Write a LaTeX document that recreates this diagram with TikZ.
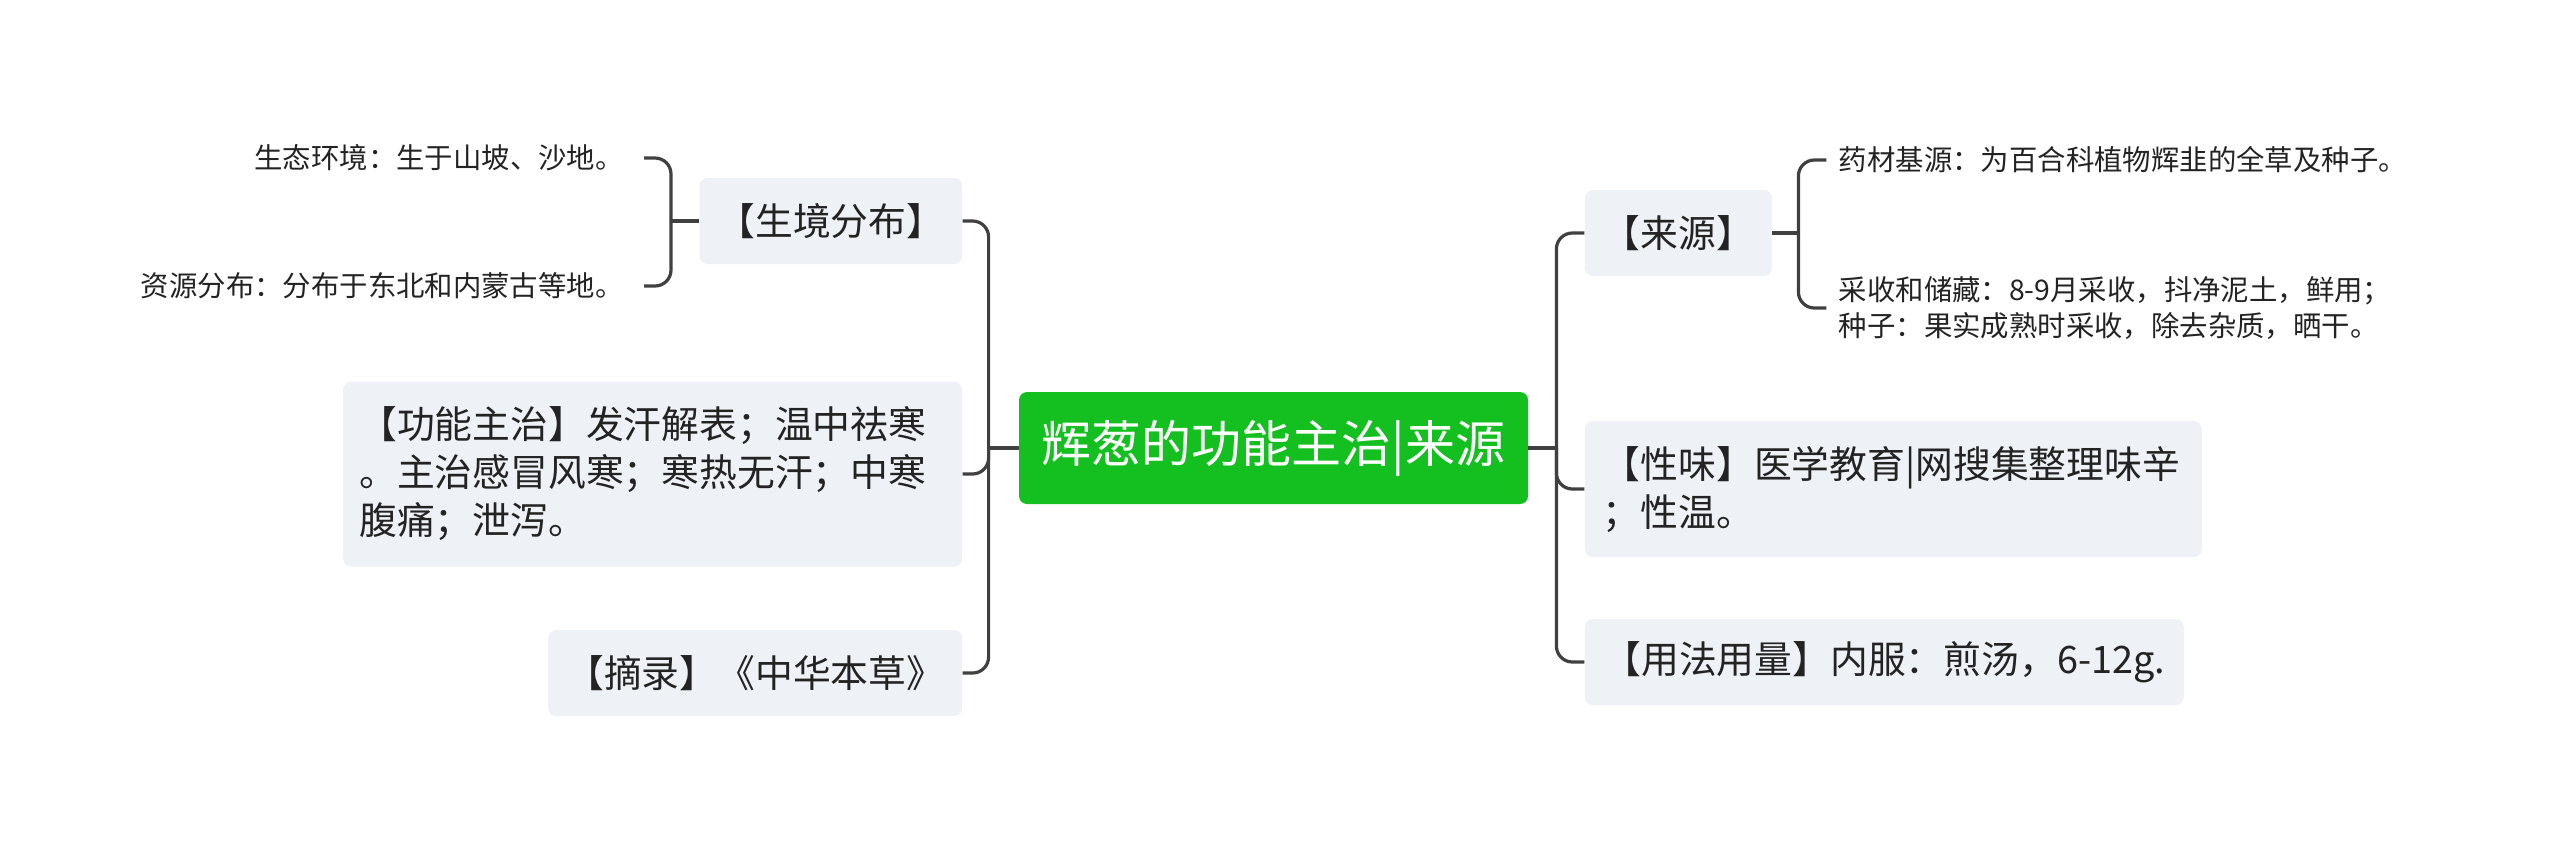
\documentclass[tikz,border=0pt]{standalone}
\usepackage{fontspec}
\newfontfamily\cjk{Noto Sans CJK SC}
\usetikzlibrary{positioning,calc}
\definecolor{rootgreen}{RGB}{20,192,32}
\definecolor{boxgray}{RGB}{238,241,245}
\definecolor{linegray}{RGB}{64,64,64}
\definecolor{textgray}{RGB}{35,35,35}

\begin{document}
\begin{tikzpicture}[
	conn/.style={draw=linegray, line width=1.6pt, rounded corners=8pt},
	topic/.style={rectangle, fill=boxgray, rounded corners=4pt, text=textgray, inner xsep=9pt, minimum height=43pt, font=\cjk\fontsize{18.9pt}{24pt}\selectfont},
	leaf/.style={text=textgray, inner ysep=0pt, inner xsep=10pt, font=\cjk\fontsize{14.2pt}{18pt}\selectfont}
	]
	\useasboundingbox (0,0) rectangle (1280pt,-421.5pt);
	\node[rectangle, fill=rootgreen, rounded corners=4pt, text=white, minimum width=254.5pt, minimum height=56pt, font=\cjk\fontsize{25pt}{30pt}\selectfont] (root) at (636.75pt,-224pt) {辉葱的功能主治|来源};
	
	% left side
	\node[topic, minimum width=130.5pt, left=28pt of root, yshift=113.5pt] (habitat) {【生境分布】};
	\node[topic, inner xsep=8pt, text width=293.5pt, align=left, minimum height=92.5pt, left=28pt of root, yshift=-13pt] (function) {【功能主治】发汗解表；温中祛寒\\。主治感冒风寒；寒热无汗；中寒\\腹痛；泄泻。};
	\node[topic, minimum width=205pt, left=28pt of root, yshift=-112.5pt] (excerpt) {【摘录】《中华本草》};
	\node[leaf, left=27.5pt of habitat, yshift=31.5pt] (eco) {生态环境：生于山坡、沙地。};
	\node[leaf, left=27.5pt of habitat, yshift=-32.5pt] (dist) {资源分布：分布于东北和内蒙古等地。};
	
	% right side
	\node[topic, minimum width=93pt, right=28pt of root, yshift=107.5pt] (source) {【来源】};
	\node[topic, text width=290.5pt, align=left, minimum height=68pt, right=28pt of root, yshift=-20.5pt] (taste) {【性味】医学教育|网搜集整理味辛\\；性温。};
	\node[topic, minimum width=299.5pt, right=28pt of root, yshift=-107pt] (usage) {【用法用量】内服：煎汤，6-12g.};
	\node[leaf, inner xsep=6pt, right=27pt of source, yshift=36.5pt] (herb) {药材基源：为百合科植物辉韭的全草及种子。};
	\node[leaf, inner xsep=6pt, align=left, right=27pt of source, yshift=-37.5pt] (harvest) {采收和储藏：8-9月采收，抖净泥土，鲜用；\\种子：果实成熟时采收，除去杂质，晒干。};
	
	\coordinate (lj) at ($(root.west)+(-15pt,0)$);
	\coordinate (rj) at ($(root.east)+(14pt,0)$);
	\coordinate (hj) at ($(habitat.west)+(-14pt,0)$);
	\coordinate (sj) at ($(source.east)+(13pt,0)$);
	
	\draw[conn] (root.west) -- (lj);
	\draw[conn] (lj) |- (habitat.east);
	\draw[conn] (lj) |- (function.east);
	\draw[conn] (lj) |- (excerpt.east);
	\draw[conn] (root.east) -- (rj);
	\draw[conn] (rj) |- (source.west);
	\draw[conn] (rj) |- (taste.west);
	\draw[conn] (rj) |- (usage.west);
	\draw[conn] (habitat.west) -- (hj);
	\draw[conn] (hj) |- (eco.east);
	\draw[conn] (hj) |- (dist.east);
	\draw[conn] (source.east) -- (sj);
	\draw[conn] (sj) |- (herb.west);
	\draw[conn] (sj) |- (harvest.west);
\end{tikzpicture}
\end{document}
